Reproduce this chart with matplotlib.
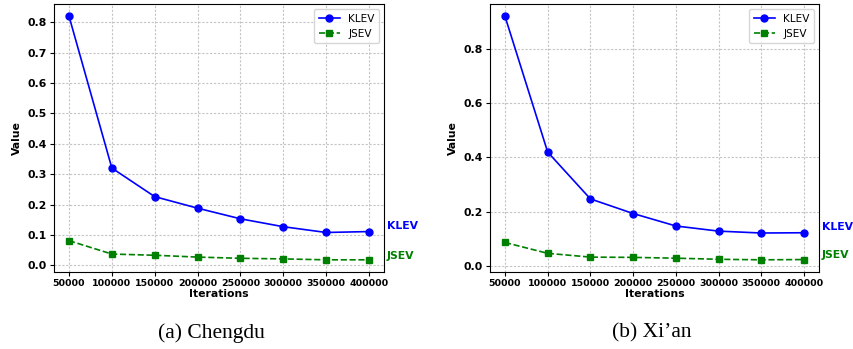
import matplotlib
matplotlib.use("Agg")
import matplotlib.pyplot as plt

iterations = [50000, 100000, 150000, 200000, 250000, 300000, 350000, 400000]

chengdu_klev = [0.82, 0.32, 0.226, 0.188, 0.153, 0.127, 0.108, 0.111]
chengdu_jsev = [0.081, 0.037, 0.033, 0.027, 0.023, 0.021, 0.018, 0.018]

xian_klev = [0.922, 0.42, 0.247, 0.193, 0.147, 0.128, 0.121, 0.122]
xian_jsev = [0.086, 0.046, 0.032, 0.031, 0.028, 0.024, 0.022, 0.023]

captions = ["(a) Chengdu", "(b) Xi\u2019an"]
yticks_list = [[0.0, 0.1, 0.2, 0.3, 0.4, 0.5, 0.6, 0.7, 0.8],
               [0.0, 0.2, 0.4, 0.6, 0.8]]

fig = plt.figure(figsize=(8.54, 3.49), dpi=100)
ax_l = fig.add_axes([54 / 854, 77 / 349, 330 / 854, 268 / 349])
ax_r = fig.add_axes([490 / 854, 77 / 349, 329 / 854, 268 / 349])

panels = [(ax_l, chengdu_klev, chengdu_jsev), (ax_r, xian_klev, xian_jsev)]

for i, (ax, klev, jsev) in enumerate(panels):
    ax.plot(iterations, klev, color="b", marker="o", markersize=5, lw=1.2, label="KLEV")
    ax.plot(iterations, jsev, color="g", marker="s", markersize=5, lw=1.2, ls="--", label="JSEV")

    ax.set_xticks(iterations)
    ax.set_xticklabels([str(v) for v in iterations], fontsize=6.8, fontweight="bold")
    ax.set_yticks(yticks_list[i])
    ax.set_yticklabels(["%.1f" % v for v in yticks_list[i]], fontsize=7.8, fontweight="bold")
    ax.set_xlabel("Iterations", fontsize=7.8, fontweight="bold", labelpad=1)
    ax.set_ylabel("Value", fontsize=7.8, fontweight="bold")
    ax.tick_params(length=3, pad=2)
    ax.grid(True, ls=(0, (2, 1.5)), color="#c4c4c4", lw=0.8)

    ax.legend(loc="upper right", fontsize=7.6)

    # end labels outside the axes
    ax.annotate("KLEV", xy=(1.0, klev[-1]), xycoords=("axes fraction", "data"),
                xytext=(2, 4), textcoords="offset points", color="b",
                fontsize=7.8, fontweight="bold", va="center", ha="left")
    ax.annotate("JSEV", xy=(1.0, jsev[-1]), xycoords=("axes fraction", "data"),
                xytext=(2, 3), textcoords="offset points", color="g",
                fontsize=7.8, fontweight="bold", va="center", ha="left")

fig.text(211 / 854, 1 - 333 / 349, captions[0], family="Liberation Serif",
         fontsize=15.5, ha="center", va="center")
fig.text(652 / 854, 1 - 333 / 349, captions[1], family="Liberation Serif",
         fontsize=15.5, ha="center", va="center")

fig.savefig("out.png", dpi=100)
